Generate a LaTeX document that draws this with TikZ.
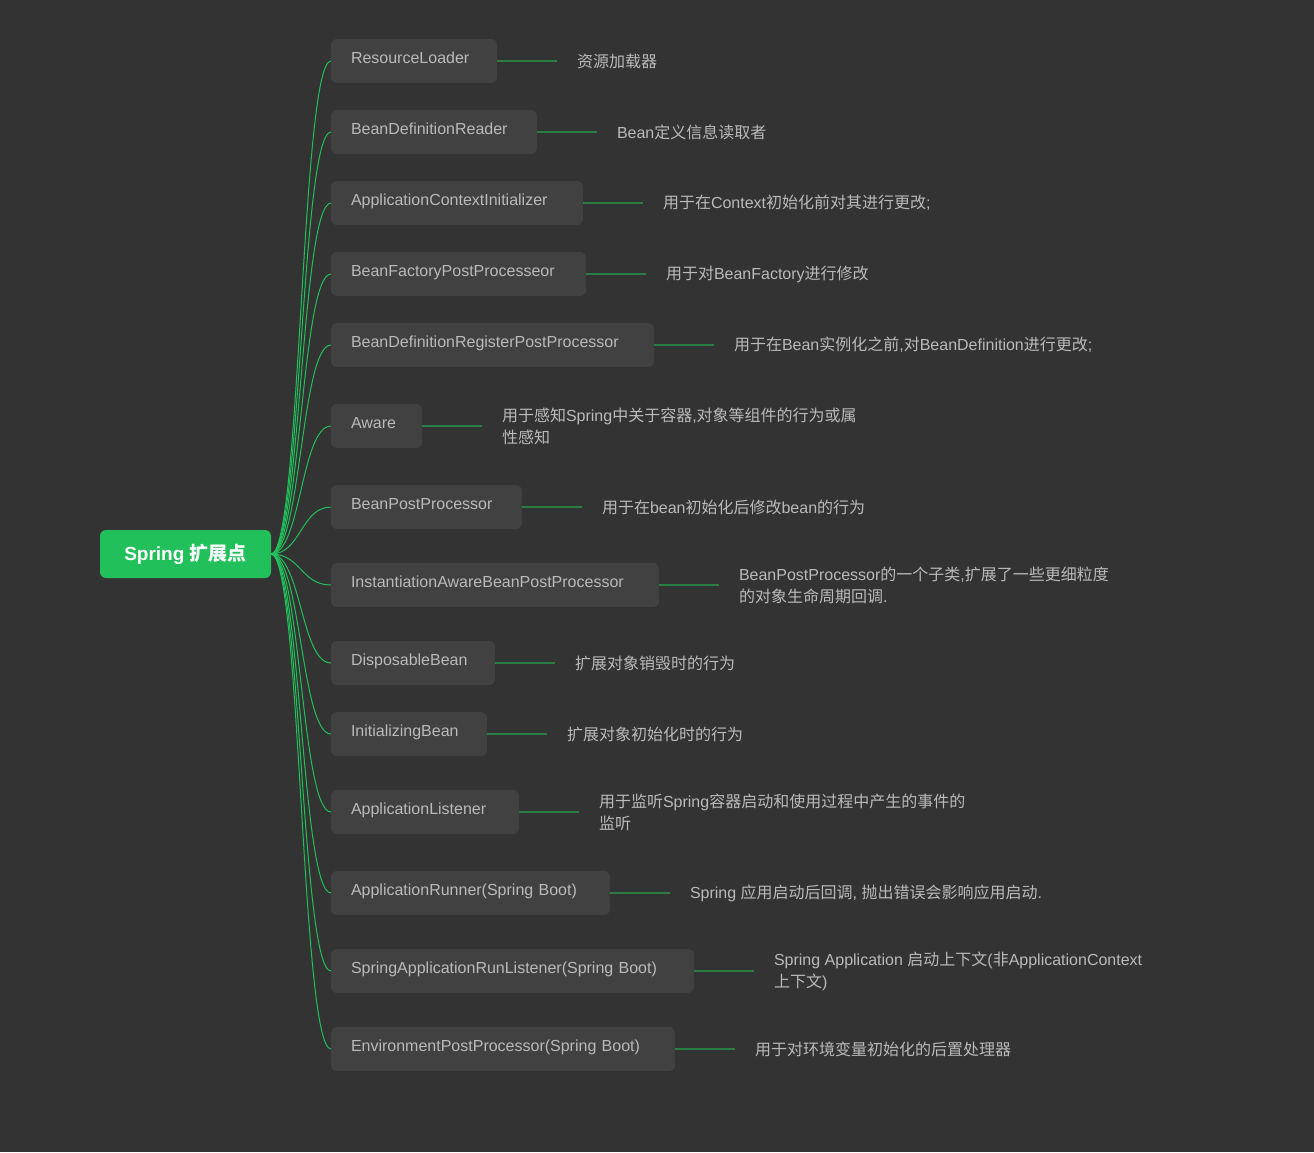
\documentclass[tikz,border=0pt]{standalone}
\usepackage{fontspec}
\setmainfont{Liberation Sans}
\newfontfamily\zhfont{Noto Sans CJK SC}
\newcommand\zh[1]{{\zhfont #1}}
\usetikzlibrary{positioning}

\definecolor{bgcol}{HTML}{333333}
\definecolor{boxcol}{HTML}{414141}
\definecolor{txtcol}{HTML}{BABABA}
\definecolor{rootcol}{HTML}{21C05A}
\definecolor{leafcol}{HTML}{2A7D43}

\tikzset{
  root/.style={fill=rootcol, rounded corners=6pt, minimum width=171pt, minimum height=48pt,
    inner sep=0pt, outer sep=0pt, text=white, font=\fontsize{19}{22}\selectfont\bfseries},
  box/.style={fill=boxcol, rounded corners=6pt, anchor=west, text width=#1, align=left,
    inner xsep=20pt, inner ysep=5pt, text height=19pt, text depth=15pt, outer sep=0pt,
    text=txtcol, font=\fontsize{16}{22}\selectfont},
  note/.style={align=left, inner sep=0pt, outer sep=0pt, text=txtcol,
    font=\fontsize{16}{22}\selectfont},
  branch/.style={draw=rootcol, line width=1pt},
  leaf/.style={draw=leafcol, line width=2pt, shorten >=20pt}
}

\begin{document}
\begin{tikzpicture}[x=1pt, y=-1pt]
\fill[bgcol] (0,0) rectangle (1314,1152);
\useasboundingbox (0,0) rectangle (1314,1152);

% Define nodes
\node[root] (root) at (185.5,554) {Spring \zh{扩展点}};

\node[box=126pt] (r1) at (331,61) {ResourceLoader};
\node[box=166pt] (r2) at (331,132) {BeanDefinitionReader};
\node[box=212pt] (r3) at (331,203) {ApplicationContextInitializer};
\node[box=215pt] (r4) at (331,274) {BeanFactoryPostProcesseor};
\node[box=283pt] (r5) at (331,345) {BeanDefinitionRegisterPostProcessor};
\node[box=51pt] (r6) at (331,426) {Aware};
\node[box=151pt] (r7) at (331,507) {BeanPostProcessor};
\node[box=288pt] (r8) at (331,585) {InstantiationAwareBeanPostProcessor};
\node[box=124pt] (r9) at (331,663) {DisposableBean};
\node[box=116pt] (r10) at (331,734) {InitializingBean};
\node[box=148pt] (r11) at (331,812) {ApplicationListener};
\node[box=239pt] (r12) at (331,893) {ApplicationRunner(Spring Boot)};
\node[box=323pt] (r13) at (331,971) {SpringApplicationRunListener(Spring Boot)};
\node[box=304pt] (r14) at (331,1049) {EnvironmentPostProcessor(Spring Boot)};

% Descriptions
\node[note, right=80pt of r1] (d1) {\zh{资源加载器}};
\node[note, right=80pt of r2] (d2) {Bean\zh{定义信息读取者}};
\node[note, right=80pt of r3] (d3) {\zh{用于在}Context\zh{初始化前对其进行更改};};
\node[note, right=80pt of r4] (d4) {\zh{用于对}BeanFactory\zh{进行修改}};
\node[note, right=80pt of r5] (d5) {\zh{用于在}Bean\zh{实例化之前},\zh{对}BeanDefinition\zh{进行更改};};
\node[note, right=80pt of r6] (d6) {\zh{用于感知}Spring\zh{中关于容器},\zh{对象等组件的行为或属}\\\zh{性感知}};
\node[note, right=80pt of r7] (d7) {\zh{用于在}bean\zh{初始化后修改}bean\zh{的行为}};
\node[note, right=80pt of r8] (d8) {BeanPostProcessor\zh{的一个子类},\zh{扩展了一些更细粒度}\\\zh{的对象生命周期回调}.};
\node[note, right=80pt of r9] (d9) {\zh{扩展对象销毁时的行为}};
\node[note, right=80pt of r10] (d10) {\zh{扩展对象初始化时的行为}};
\node[note, right=80pt of r11] (d11) {\zh{用于监听}Spring\zh{容器启动和使用过程中产生的事件的}\\\zh{监听}};
\node[note, right=80pt of r12] (d12) {Spring \zh{应用启动后回调}, \zh{抛出错误会影响应用启动}.};
\node[note, right=80pt of r13] (d13) {Spring Application \zh{启动上下文}(\zh{非}ApplicationContext\\\zh{上下文})};
\node[note, right=80pt of r14] (d14) {\zh{用于对环境变量初始化的后置处理器}};

% Draw branches
\draw[branch] (root.east) .. controls +(30,0) and +(-30,0) .. (r1.west);
\draw[branch] (root.east) .. controls +(30,0) and +(-30,0) .. (r2.west);
\draw[branch] (root.east) .. controls +(30,0) and +(-30,0) .. (r3.west);
\draw[branch] (root.east) .. controls +(30,0) and +(-30,0) .. (r4.west);
\draw[branch] (root.east) .. controls +(30,0) and +(-30,0) .. (r5.west);
\draw[branch] (root.east) .. controls +(30,0) and +(-30,0) .. (r6.west);
\draw[branch] (root.east) .. controls +(30,0) and +(-30,0) .. (r7.west);
\draw[branch] (root.east) .. controls +(30,0) and +(-30,0) .. (r8.west);
\draw[branch] (root.east) .. controls +(30,0) and +(-30,0) .. (r9.west);
\draw[branch] (root.east) .. controls +(30,0) and +(-30,0) .. (r10.west);
\draw[branch] (root.east) .. controls +(30,0) and +(-30,0) .. (r11.west);
\draw[branch] (root.east) .. controls +(30,0) and +(-30,0) .. (r12.west);
\draw[branch] (root.east) .. controls +(30,0) and +(-30,0) .. (r13.west);
\draw[branch] (root.east) .. controls +(30,0) and +(-30,0) .. (r14.west);

% Draw leaf lines
\draw[leaf] (r1.east) -- (r1.east -| d1.west);
\draw[leaf] (r2.east) -- (r2.east -| d2.west);
\draw[leaf] (r3.east) -- (r3.east -| d3.west);
\draw[leaf] (r4.east) -- (r4.east -| d4.west);
\draw[leaf] (r5.east) -- (r5.east -| d5.west);
\draw[leaf] (r6.east) -- (r6.east -| d6.west);
\draw[leaf] (r7.east) -- (r7.east -| d7.west);
\draw[leaf] (r8.east) -- (r8.east -| d8.west);
\draw[leaf] (r9.east) -- (r9.east -| d9.west);
\draw[leaf] (r10.east) -- (r10.east -| d10.west);
\draw[leaf] (r11.east) -- (r11.east -| d11.west);
\draw[leaf] (r12.east) -- (r12.east -| d12.west);
\draw[leaf] (r13.east) -- (r13.east -| d13.west);
\draw[leaf] (r14.east) -- (r14.east -| d14.west);

\end{tikzpicture}
\end{document}
